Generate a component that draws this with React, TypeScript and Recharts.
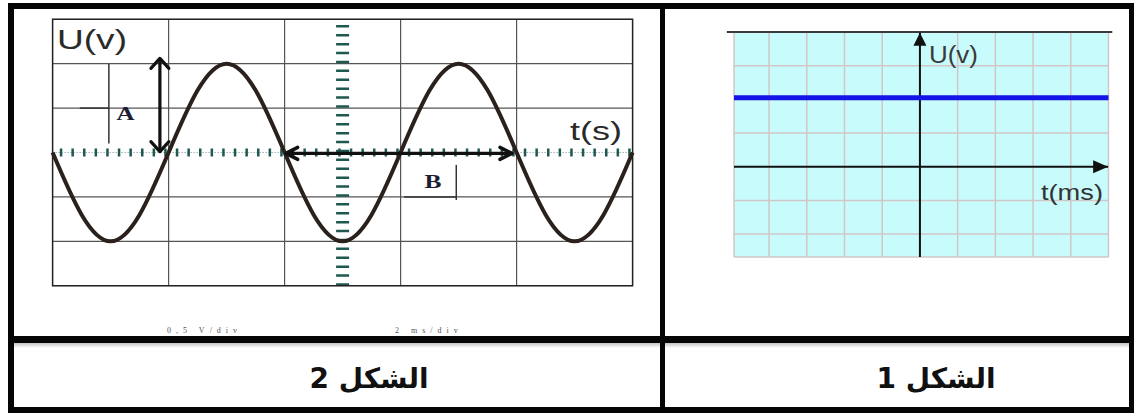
import { CartesianGrid, Line, LineChart, ReferenceArea, ReferenceDot, ReferenceLine, XAxis, YAxis } from "recharts";

// Figure 2: oscilloscope trace, time and voltage in screen divisions
const scopeT = [0, 0.5, 1, 1.5, 2, 2.5, 3, 3.5, 4, 4.5, 5, 5.5, 6, 6.5, 7, 7.5, 8, 8.5, 9, 9.5, 10];
const scopeU = [0, -1.4, -2, -1.4, 0, 1.4, 2, 1.4, 0, -1.4, -2, -1.4, 0, 1.4, 2, 1.4, 0, -1.4, -2, -1.4, 0];
const scopeTTicks = [0, 1, 2, 3, 4, 5, 6, 7, 8, 9, 10];
const scopeUTicks = [-3, -2, -1, 0, 1, 2, 3];
const scopeMajorT = [2, 4, 6, 8];
const scopeMajorU = [-2, -1, 1, 2];

// Figure 1: constant voltage
const dcT = [-4.93, -4, -3, -2, -1, 0, 1, 2, 3, 4, 5];
const dcU = [2.05, 2.05, 2.05, 2.05, 2.05, 2.05, 2.05, 2.05, 2.05, 2.05, 2.05];
const dcTTicks = [-4, -3, -2, -1, 1, 2, 3, 4];
const dcUTicks = [-2, -1, 1, 2, 3];

const figureTitles = ["الشكل 2", "الشكل 1"];
const scaleNotes = ["0,5 V/div", "2 ms/div"];

const scopeData = scopeT.map((t, i) => ({ t, u: scopeU[i] }));
const dcData = dcT.map((t, i) => ({ t, u: dcU[i] }));

type ArrowOpts = { start?: boolean; end?: boolean; filled?: boolean; len: number; half: number; width: number; color: string };

function arrowShape(o: ArrowOpts) {
  return (p: any) => {
    const { x1, y1, x2, y2 } = p;
    const dx = x2 - x1;
    const dy = y2 - y1;
    const L = Math.hypot(dx, dy) || 1;
    const ux = dx / L;
    const uy = dy / L;
    const head = (tx: number, ty: number, bx: number, by: number) => {
      const cx = tx + bx * o.len;
      const cy = ty + by * o.len;
      const px = -by * o.half;
      const py = bx * o.half;
      const pts = `${cx + px},${cy + py} ${tx},${ty} ${cx - px},${cy - py}`;
      return o.filled ? (
        <polygon points={pts} fill={o.color} />
      ) : (
        <polyline points={pts} fill="none" stroke={o.color} strokeWidth={o.width} strokeLinecap="round" strokeLinejoin="round" />
      );
    };
    return (
      <g>
        <line x1={x1} y1={y1} x2={x2} y2={y2} stroke={o.color} strokeWidth={o.width} />
        {o.start && head(x1, y1, ux, uy)}
        {o.end && head(x2, y2, -ux, -uy)}
      </g>
    );
  };
}

function textShape(content: string, style: Record<string, any>) {
  return (p: any) => (
    <text x={p.cx} y={p.cy} {...style}>
      {content}
    </text>
  );
}

const sans = "'Liberation Sans', Arial, sans-serif";
const serif = "'Liberation Serif', 'Times New Roman', serif";

function ScopeChart() {
  return (
    <LineChart width={600} height={287} data={scopeData} margin={{ top: 10.3, right: 9.4, left: 10.6, bottom: 10.3 }}>
      <XAxis dataKey="t" type="number" domain={[0, 10]} ticks={scopeTTicks} height={0} tick={false} axisLine={false} tickLine={false} />
      <YAxis type="number" domain={[-3, 3]} ticks={scopeUTicks} width={0} tick={false} axisLine={false} tickLine={false} />
      <CartesianGrid stroke="#a8a8a8" strokeWidth={1} />
      {scopeMajorT.map((t) => (
        <ReferenceLine key={"mt" + t} x={t} stroke="#555" strokeWidth={1.2} zIndex={-50} />
      ))}
      {scopeMajorU.map((u) => (
        <ReferenceLine key={"mu" + u} y={u} stroke="#555" strokeWidth={1.2} zIndex={-50} />
      ))}
      <ReferenceLine y={0} stroke="#6f8f8c" strokeWidth={1} strokeDasharray="1 2" zIndex={-40} />
      <ReferenceLine y={0} stroke="#1f5751" strokeWidth={8} strokeDasharray="2.5 9.1" strokeDashoffset={4.4} zIndex={-40} />
      <ReferenceLine x={5} stroke="#1f5751" strokeWidth={13} strokeDasharray="2.5 6.4" zIndex={-40} />
      <ReferenceArea x1={0} x2={10} y1={-3} y2={3} fill="none" stroke="#222" strokeWidth={1.5} zIndex={-30} />

      {/* leader lines of the A and B marks */}
      <ReferenceLine segment={[{ x: 0.97, y: 2 }, { x: 0.97, y: 0.2 }]} stroke="#333" strokeWidth={1.5} zIndex={-20} />
      <ReferenceLine segment={[{ x: 0.47, y: 1 }, { x: 0.97, y: 1 }]} stroke="#333" strokeWidth={1.5} zIndex={-20} />
      <ReferenceLine segment={[{ x: 6.06, y: -1 }, { x: 6.96, y: -1 }]} stroke="#333" strokeWidth={1.5} zIndex={-20} />
      <ReferenceLine segment={[{ x: 6.96, y: -0.28 }, { x: 6.96, y: -1.07 }]} stroke="#333" strokeWidth={1.5} zIndex={-20} />

      <Line dataKey="u" type="natural" stroke="#2b211c" strokeWidth={4} dot={false} isAnimationActive={false} />

      <ReferenceLine
        segment={[{ x: 1.85, y: 2.12 }, { x: 1.85, y: 0.02 }]}
        ifOverflow="visible"
        zIndex={500}
        shape={arrowShape({ start: true, end: true, len: 10, half: 9, width: 3.2, color: "#111" })}
      />
      <ReferenceLine
        segment={[{ x: 4.02, y: -0.02 }, { x: 7.92, y: -0.02 }]}
        ifOverflow="visible"
        zIndex={500}
        shape={arrowShape({ start: true, end: true, len: 12, half: 6, width: 3.4, color: "#111" })}
      />

      <ReferenceDot x={0.076} y={2.33} r={0} ifOverflow="visible" zIndex={600}
        shape={textShape("U(v)", { fontFamily: sans, fontSize: 27, fill: "#2a2a2a", textLength: 70, lengthAdjust: "spacingAndGlyphs" })} />
      <ReferenceDot x={8.92} y={0.28} r={0} ifOverflow="visible" zIndex={600}
        shape={textShape("t(s)", { fontFamily: sans, fontSize: 26, fill: "#2a2a2a", textLength: 52, lengthAdjust: "spacingAndGlyphs" })} />
      <ReferenceDot x={1.257} y={0.73} r={0} ifOverflow="visible" zIndex={600}
        shape={textShape("A", { fontFamily: serif, fontWeight: 700, fontSize: 19, fill: "#1d1d33", textAnchor: "middle", textLength: 18, lengthAdjust: "spacingAndGlyphs" })} />
      <ReferenceDot x={6.56} y={-0.8} r={0} ifOverflow="visible" zIndex={600}
        shape={textShape("B", { fontFamily: serif, fontWeight: 700, fontSize: 19, fill: "#1d1d33", textAnchor: "middle", textLength: 17, lengthAdjust: "spacingAndGlyphs" })} />
    </LineChart>
  );
}

function DcChart() {
  return (
    <LineChart width={400} height={245} data={dcData} margin={{ top: 12, right: 11.5, left: 14, bottom: 8 }}>
      <XAxis dataKey="t" type="number" domain={[-4.93, 5]} ticks={dcTTicks} height={0} tick={false} axisLine={false} tickLine={false} />
      <YAxis type="number" domain={[-2.68, 4]} ticks={dcUTicks} width={0} tick={false} axisLine={false} tickLine={false} />
      <ReferenceArea x1={-4.93} x2={5} y1={-2.68} y2={4} fill="#c8fbfb" fillOpacity={1} stroke="none" zIndex={-200} />
      <CartesianGrid stroke="#d2c6c6" strokeWidth={1.5} />
      {dcTTicks.map((t) => (
        <ReferenceLine key={"dt" + t} x={t} stroke="#d2c6c6" strokeWidth={1.5} zIndex={-90} />
      ))}
      {dcUTicks.map((u) => (
        <ReferenceLine key={"du" + u} y={u} stroke="#d2c6c6" strokeWidth={1.5} zIndex={-90} />
      ))}
      <ReferenceLine segment={[{ x: -5.12, y: 4 }, { x: 5.1, y: 4 }]} ifOverflow="visible" stroke="#3a3a3a" strokeWidth={2} zIndex={300} />
      <ReferenceLine
        segment={[{ x: 0, y: -2.68 }, { x: 0, y: 3.98 }]}
        ifOverflow="visible"
        zIndex={300}
        shape={arrowShape({ end: true, filled: true, len: 13, half: 6.5, width: 2, color: "#111" })}
      />
      <ReferenceLine
        segment={[{ x: -4.93, y: 0 }, { x: 4.99, y: 0 }]}
        ifOverflow="visible"
        zIndex={300}
        shape={arrowShape({ end: true, filled: true, len: 15, half: 6.5, width: 2, color: "#111" })}
      />
      <Line dataKey="u" type="linear" stroke="#1414e8" strokeWidth={5} dot={false} isAnimationActive={false} />
      <ReferenceDot x={0.24} y={3.08} r={0} ifOverflow="visible" zIndex={600}
        shape={textShape("U(v)", { fontFamily: sans, fontSize: 23, fill: "#3a3a3a", textLength: 49, lengthAdjust: "spacingAndGlyphs" })} />
      <ReferenceDot x={3.21} y={-0.99} r={0} ifOverflow="visible" zIndex={600}
        shape={textShape("t(ms)", { fontFamily: sans, fontSize: 22, fill: "#333", textLength: 62, lengthAdjust: "spacingAndGlyphs" })} />
    </LineChart>
  );
}

const bar = (left: number, top: number, width: number, height: number) => (
  <div style={{ position: "absolute", left, top, width, height, background: "#050505" }} />
);

export default function App() {
  return (
    <div style={{ position: "absolute", left: 0, top: 0, width: 1134, height: 416, background: "#fff", overflow: "hidden" }}>
      <div style={{ position: "absolute", left: 42, top: 9 }}>
        <ScopeChart />
      </div>
      <div style={{ position: "absolute", left: 720, top: 20 }}>
        <DcChart />
      </div>

      {/* faint scale notes under figure 2 */}
      {scaleNotes.map((note, i) => (
        <div
          key={note}
          style={{
            position: "absolute",
            left: i === 0 ? 167 : 395,
            top: 327,
            fontFamily: serif,
            fontSize: 8,
            lineHeight: "8px",
            letterSpacing: 5,
            color: "#555",
            whiteSpace: "nowrap",
          }}
        >
          {note}
        </div>
      ))}

      <div style={{ position: "absolute", left: 13, top: 342.5, width: 1116, height: 5, background: "linear-gradient(#c4c4c4, #ffffff)" }} />

      {figureTitles.map((title, i) => (
        <div
          key={title}
          dir="rtl"
          style={{
            position: "absolute",
            left: (i === 0 ? 369 : 936) - 100,
            top: 364,
            width: 200,
            textAlign: "center",
            fontFamily: "'DejaVu Sans', sans-serif",
            fontWeight: 700,
            fontSize: 28,
            lineHeight: "30px",
            color: "#111",
          }}
        >
          {title}
        </div>
      ))}

      {bar(8, 3, 1126, 5.5)}
      {bar(8, 3, 5.5, 410)}
      {bar(1129, 3, 5, 410)}
      {bar(8, 407, 1126, 6)}
      {bar(659.5, 3, 5, 410)}
      {bar(8, 336, 1126, 6.5)}
    </div>
  );
}
